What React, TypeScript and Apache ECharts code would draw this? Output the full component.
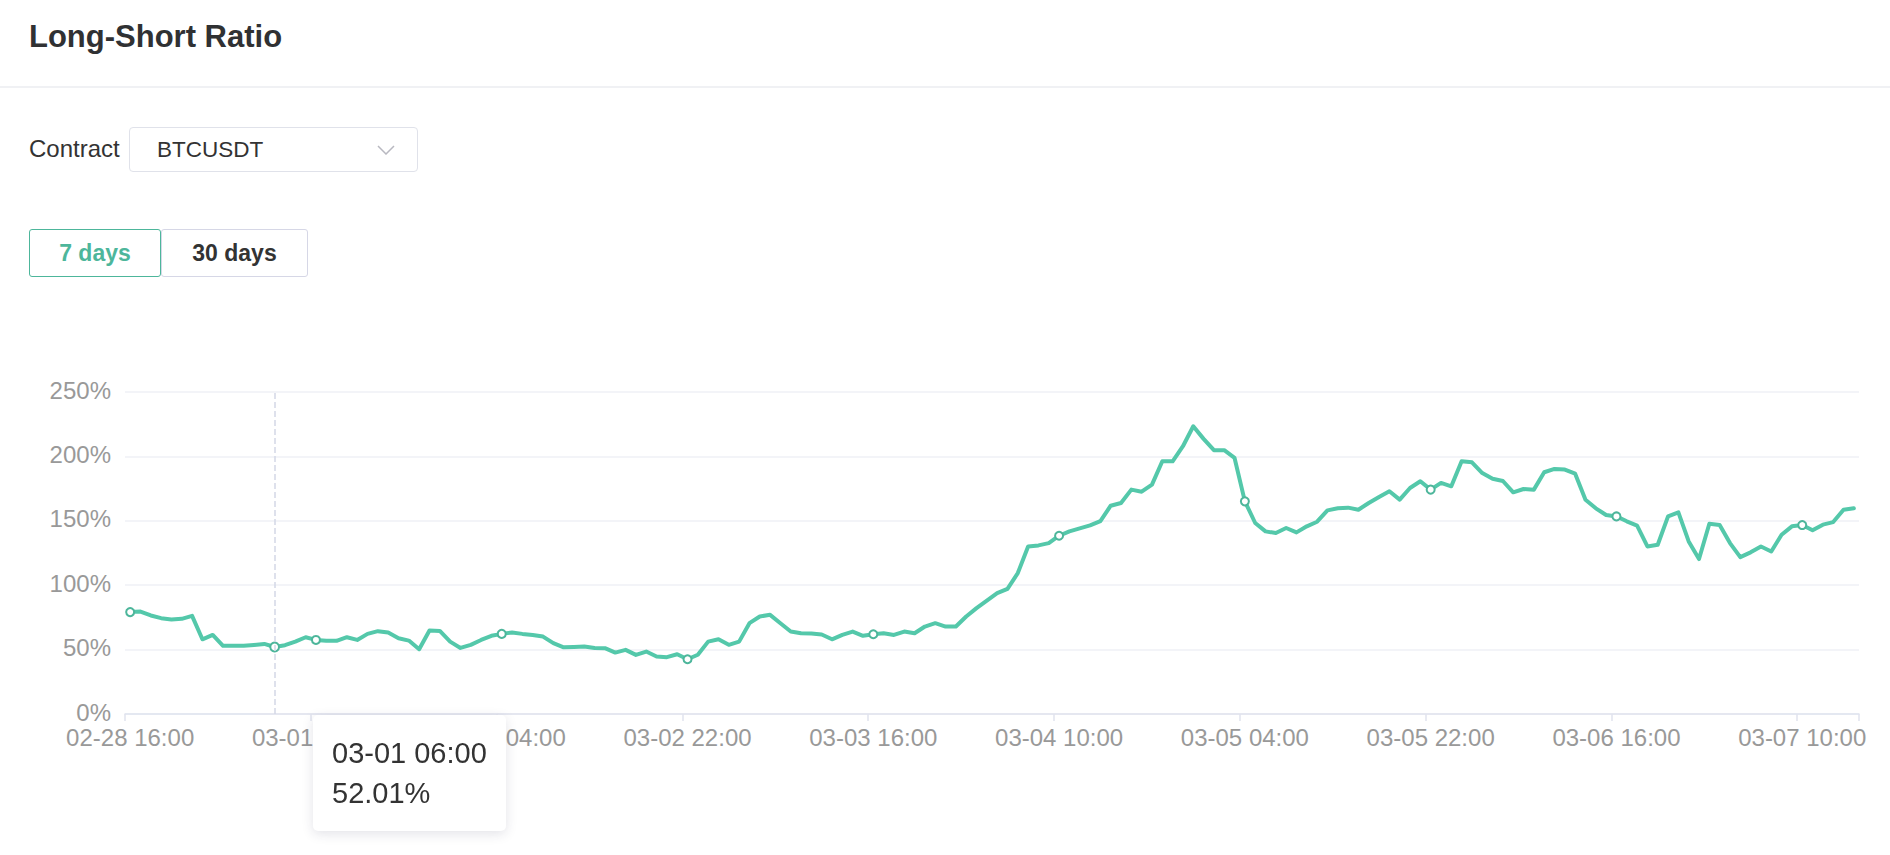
import React, { useEffect, useRef } from 'react';
import * as echarts from 'echarts';

const FONT = '"Liberation Sans", Arial, Helvetica, sans-serif';
const TEAL = '#4db69b';

// hourly timeline, starting 02-28 16:00
const dayLabels = ['02-28', '03-01', '03-02', '03-03', '03-04', '03-05', '03-06', '03-07'];
const startHour = 16;

// long-short ratio, in percent, one value per hour
const ratioValues = [
  79.1, 79.5, 76.5, 74.4, 73.4, 73.9, 76.2, 58.0, 61.4, 52.9,
  52.9, 52.9, 53.6, 54.4, 52.01, 53.4, 56.2, 59.6, 57.5, 56.8,
  56.8, 59.6, 57.5, 62.2, 64.3, 63.2, 58.8, 57.0, 50.3, 64.8,
  64.5, 56.2, 51.3, 53.7, 57.5, 60.7, 62.2, 63.3, 62.2, 61.4,
  60.1, 55.0, 51.8, 52.1, 52.4, 51.3, 51.1, 47.7, 49.8, 45.9,
  48.5, 44.6, 44.1, 46.4, 42.5, 46.0, 56.2, 58.0, 53.7, 56.2,
  70.5, 75.7, 77.0, 70.5, 64.0, 62.7, 62.5, 61.7, 58.0, 61.4,
  64.0, 60.7, 61.9, 62.7, 61.4, 64.0, 62.7, 67.9, 70.5, 67.9,
  67.9, 75.7, 82.2, 88.0, 93.8, 97.2, 109.4, 130.1, 130.9, 132.7,
  138.4, 141.8, 144.1, 146.4, 149.8, 161.7, 163.8, 174.2, 172.6, 178.1,
  196.2, 196.2, 207.9, 223.4, 213.6, 204.8, 204.8, 198.8, 165.1, 148.3,
  141.8, 140.5, 144.4, 141.0, 145.7, 149.3, 158.1, 159.7, 160.2, 158.6,
  163.8, 168.5, 172.9, 166.4, 175.5, 180.7, 174.2, 179.4, 176.8, 196.2,
  195.4, 187.1, 182.7, 180.9, 172.1, 174.7, 174.2, 187.7, 190.3, 189.8,
  186.6, 166.4, 159.7, 154.5, 153.4, 149.6, 146.2, 130.1, 131.4, 153.4,
  156.6, 134.0, 120.3, 147.7, 146.7, 132.7, 121.8, 125.5, 130.1, 126.2,
  139.2, 145.7, 146.7, 142.6, 147.0, 149.0, 158.6, 159.7,
];

const categories = ratioValues.map((_, i) => {
  const h = startHour + i;
  const d = dayLabels[Math.floor(h / 24)];
  const hh = String(h % 24).padStart(2, '0');
  return `${d} ${hh}:00`;
});

const yMin = 0;
const yMax = 250;
const yStep = 50;
const hoverIndex = 14;

function RatioChart() {
  const ref = useRef<HTMLDivElement>(null);
  useEffect(() => {
    if (!ref.current) return;
    const chart = echarts.init(ref.current, undefined, { renderer: 'svg' });
    chart.setOption({
      animation: false,
      textStyle: { fontFamily: FONT },
      grid: { left: 125, right: 31, top: 92, bottom: 141, containLabel: false },
      tooltip: {
        trigger: 'axis',
        alwaysShowContent: true,
        showDelay: 0,
        transitionDuration: 0,
        position: [313, 415],
        backgroundColor: '#ffffff',
        borderWidth: 0,
        padding: [18, 19, 18, 19],
        textStyle: { color: '#333333', fontSize: 29, lineHeight: 40, fontFamily: FONT },
        extraCssText: 'box-shadow: 0 3px 12px rgba(40,40,80,0.13); border-radius: 5px;',
        axisPointer: {
          type: 'line',
          lineStyle: { color: '#d3d7e6', type: 'dashed', width: 1.5 },
        },
        formatter: (params: any) => {
          const p = Array.isArray(params) ? params[0] : params;
          return `${p.axisValue}<br/>${Number(p.value).toFixed(2)}%`;
        },
      },
      xAxis: {
        type: 'category',
        data: categories,
        boundaryGap: true,
        axisLine: { lineStyle: { color: '#e0e3ee', width: 1.5 } },
        axisTick: { show: true, length: 7, lineStyle: { color: '#e0e3ee', width: 1.5 } },
        axisLabel: { interval: 17, color: '#999999', fontSize: 24, margin: 11, fontFamily: FONT },
      },
      yAxis: {
        type: 'value',
        min: yMin,
        max: yMax,
        interval: yStep,
        axisLine: { show: false },
        axisTick: { show: false },
        axisLabel: { formatter: '{value}%', color: '#999999', fontSize: 24, margin: 14, fontFamily: FONT, verticalAlign: 'bottom', lineHeight: 26, padding: [0, 0, -11, 0] },
        splitLine: { lineStyle: { color: '#eff0f6', width: 1.5 } },
      },
      series: [
        {
          type: 'line',
          data: ratioValues,
          symbol: 'emptyCircle',
          symbolSize: 8,
          showSymbol: true,
          lineStyle: { color: TEAL, width: 4, cap: 'round', join: 'round' },
          itemStyle: { color: TEAL, borderWidth: 2, borderColor: '#3f9a82' },
        },
      ],
    });
    chart.dispatchAction({ type: 'showTip', seriesIndex: 0, dataIndex: hoverIndex });
    return () => chart.dispose();
  }, []);
  return <div ref={ref} style={{ position: 'absolute', left: 0, top: 300, width: 1890, height: 555 }} />;
}

export default function App() {
  const box: React.CSSProperties = {
    position: 'absolute',
    boxSizing: 'border-box',
    display: 'flex',
    alignItems: 'center',
  };
  return (
    <div style={{ position: 'absolute', left: 0, top: 0, width: 1890, height: 855, background: '#ffffff', fontFamily: FONT, overflow: 'hidden' }}>
      <div style={{ ...box, left: 29, top: 17, height: 40, fontSize: 31, fontWeight: 700, color: '#303133' }}>Long-Short Ratio</div>
      <div style={{ position: 'absolute', left: 0, top: 86, width: 1890, height: 2, background: '#f0f1f4' }} />
      <div style={{ ...box, left: 29, top: 129, height: 40, fontSize: 24, color: '#333333' }}>Contract</div>
      <div style={{ ...box, left: 129, top: 127, width: 289, height: 45, border: '1.5px solid #e0e2ea', borderRadius: 4, paddingLeft: 27, fontSize: 22.5, color: '#333333' }}>
        BTCUSDT
        <svg width="18" height="10" style={{ position: 'absolute', left: 247, top: 17 }}>
          <polyline points="1,1 9,9 17,1" fill="none" stroke="#b8b8c0" strokeWidth="1.5" />
        </svg>
      </div>
      <div style={{ ...box, justifyContent: 'center', left: 29, top: 229, width: 132, height: 48, border: `1.5px solid ${TEAL}`, borderRadius: 3, fontSize: 23, fontWeight: 700, color: TEAL }}>7 days</div>
      <div style={{ ...box, justifyContent: 'center', left: 161, top: 229, width: 147, height: 48, border: '1.5px solid #d6d7e6', borderRadius: 3, fontSize: 23, fontWeight: 700, color: '#333333' }}>30 days</div>
      <RatioChart />
    </div>
  );
}
